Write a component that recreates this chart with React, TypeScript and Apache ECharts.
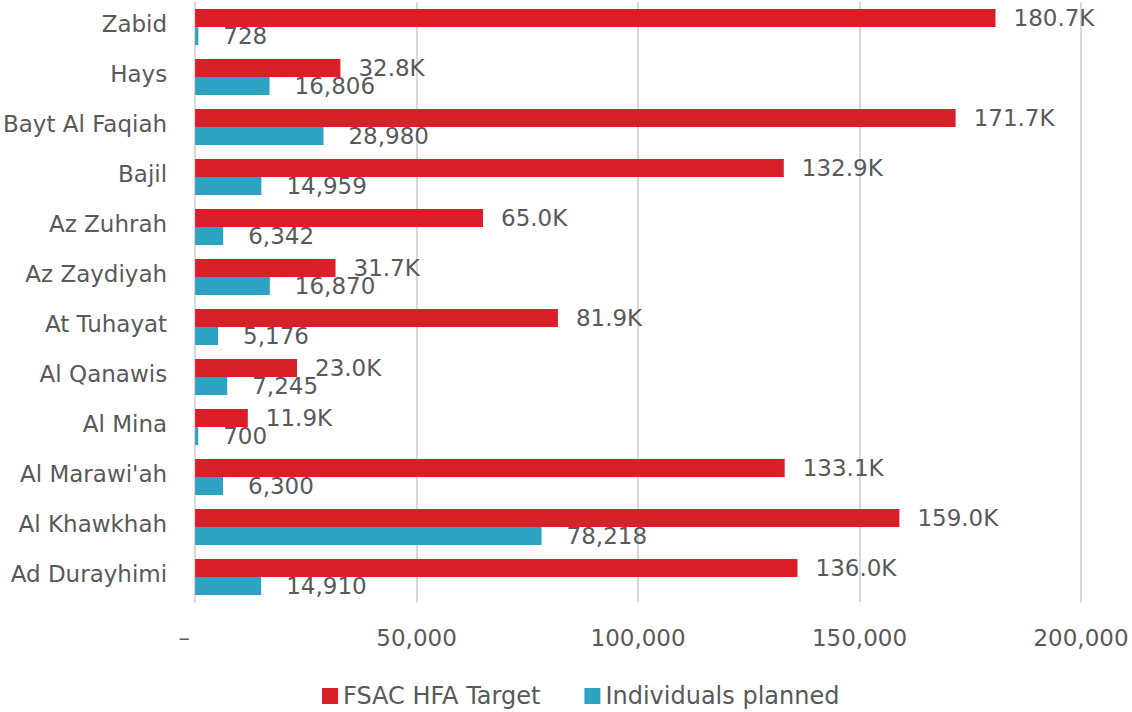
import React, { useEffect, useRef } from "react";
import * as echarts from "echarts";

const categories = [
  "Zabid",
  "Hays",
  "Bayt Al Faqiah",
  "Bajil",
  "Az Zuhrah",
  "Az Zaydiyah",
  "At Tuhayat",
  "Al Qanawis",
  "Al Mina",
  "Al Marawi'ah",
  "Al Khawkhah",
  "Ad Durayhimi",
];

const targetValues = [180700, 32800, 171700, 132900, 65000, 31700, 81900, 23000, 11900, 133100, 159000, 136000];
const plannedValues = [728, 16806, 28980, 14959, 6342, 16870, 5176, 7245, 700, 6300, 78218, 14910];

const seriesNames = ["FSAC HFA Target", "Individuals planned"];
const xTicks = [0, 50000, 100000, 150000, 200000];

const FONT = "DejaVu Sans";
const TEXT = "#595959";
const FS = 23;

export default function App() {
  const ref = useRef<HTMLDivElement>(null);
  useEffect(() => {
    if (!ref.current) return;
    const chart = echarts.init(ref.current, null, { renderer: "svg" });
    chart.setOption({
      animation: false,
      textStyle: { fontFamily: FONT },
      grid: { left: 194, right: 51, top: 2, bottom: 110, containLabel: false },
      legend: {
        top: 679,
        left: 317,
        icon: "rect",
        itemWidth: 16,
        itemHeight: 16,
        itemGap: 44,
        textStyle: { fontFamily: FONT, fontSize: 24, color: TEXT },
        data: seriesNames,
      },
      xAxis: {
        type: "value",
        min: xTicks[0],
        max: xTicks[xTicks.length - 1],
        interval: 50000,
        axisLine: { show: false },
        axisTick: { show: false },
        splitLine: { lineStyle: { color: "#d9d9d9", width: 2 } },
        axisLabel: {
          margin: 24,
          fontFamily: FONT,
          fontSize: FS,
          color: TEXT,
          formatter: (v: number) => (v === 0 ? "–   " : v.toLocaleString("en-US")),
        },
      },
      yAxis: {
        type: "category",
        inverse: true,
        data: categories,
        axisLine: { show: true, lineStyle: { color: "#d9d9d9", width: 2 } },
        axisTick: { show: false },
        axisLabel: {
          margin: 28,
          fontFamily: FONT,
          fontSize: FS,
          color: TEXT,
          formatter: (v: string) => "{a|" + v + "}",
          rich: {
            a: {
              fontFamily: FONT,
              fontSize: FS,
              color: TEXT,
              padding: [0, 0, 6, 0],
            },
          },
        },
      },
      series: [
        {
          name: seriesNames[0],
          type: "bar",
          data: targetValues,
          barWidth: 18,
          barGap: "0%",
          itemStyle: { color: "#DA1F28" },
          label: {
            show: true,
            position: "right",
            distance: 18,
            fontFamily: FONT,
            fontSize: FS,
            color: TEXT,
            formatter: (p: any) => (p.value / 1000).toFixed(1) + "K",
          },
        },
        {
          name: seriesNames[1],
          type: "bar",
          data: plannedValues,
          barWidth: 18,
          barGap: "0%",
          itemStyle: { color: "#2EA3C1" },
          label: {
            show: true,
            position: "right",
            distance: 25,
            fontFamily: FONT,
            fontSize: FS,
            color: TEXT,
            formatter: (p: any) => Number(p.value).toLocaleString("en-US"),
          },
        },
      ],
    });
    return () => chart.dispose();
  }, []);
  return (
    <div
      ref={ref}
      style={{ position: "fixed", left: 0, top: 0, width: 1132, height: 712, background: "#fff" }}
    />
  );
}
